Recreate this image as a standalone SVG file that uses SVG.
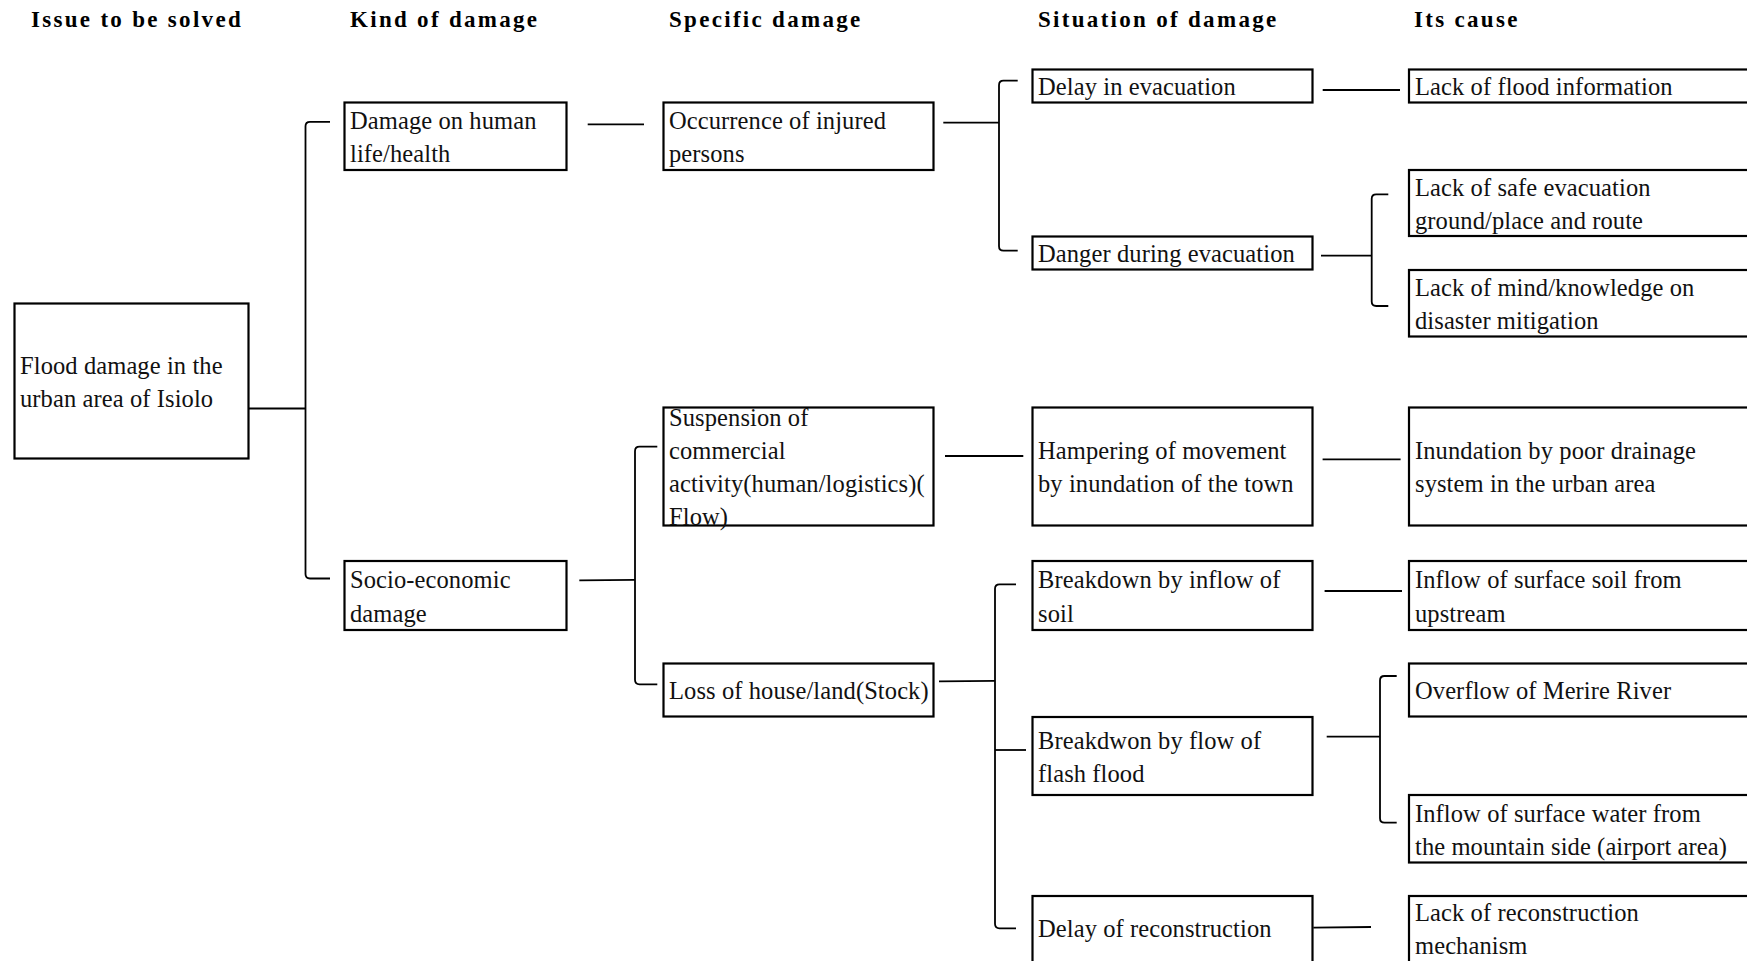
<svg xmlns="http://www.w3.org/2000/svg" width="1747" height="961" viewBox="0 0 1747 961">
<style>
.hd{font-family:"Liberation Serif","Times New Roman",serif;font-weight:bold;font-size:23px;letter-spacing:2.3px;fill:#000}
.t{font-family:"Liberation Serif","Times New Roman",serif;font-size:24.5px;letter-spacing:0.1px;fill:#111}
.b{fill:#fff;stroke:#000;stroke-width:2.2}
.c{fill:none;stroke:#000;stroke-width:1.8;stroke-linecap:butt}
</style>
<rect width="1747" height="961" fill="#fff"/>
<g id="headers">
<text class="hd" x="31" y="27">Issue to be solved</text>
<text class="hd" x="350" y="27">Kind of damage</text>
<text class="hd" x="669" y="27">Specific damage</text>
<text class="hd" x="1038" y="27">Situation of damage</text>
<text class="hd" x="1414" y="27">Its cause</text>
</g>
<g id="connectors">
<path class="c" d="M248.7 408.5 H305.5"/>
<path class="c" d="M330 121.8 H310 Q305.5 121.8 305.5 126.3 V574 Q305.5 578.5 310 578.5 H330"/>
<path class="c" d="M587.7 124.3 H644"/>
<path class="c" d="M943.3 122.7 H999"/>
<path class="c" d="M1017.7 80.7 H1003.5 Q999 80.7 999 85.2 V246.2 Q999 250.7 1003.5 250.7 H1017.7"/>
<path class="c" d="M1322.7 90 H1400"/>
<path class="c" d="M1321 255.7 H1371.7"/>
<path class="c" d="M1388.3 194.3 H1376.2 Q1371.7 194.3 1371.7 198.8 V301.5 Q1371.7 306 1376.2 306 H1388.3"/>
<path class="c" d="M579.3 580.3 L635 579.8"/>
<path class="c" d="M657.3 446.7 H639.5 Q635 446.7 635 451.2 V679.8 Q635 684.3 639.5 684.3 H657.3"/>
<path class="c" d="M945 456 H1023.3"/>
<path class="c" d="M1322.6 459.3 H1400.6"/>
<path class="c" d="M939 681.3 L995 680.8"/>
<path class="c" d="M1016 584.3 H999.5 Q995 584.3 995 588.8 V923.8 Q995 928.3 999.5 928.3 H1016"/>
<path class="c" d="M995 750 H1026"/>
<path class="c" d="M1324.6 591 H1402"/>
<path class="c" d="M1326.7 736.7 H1380"/>
<path class="c" d="M1396.7 676 H1384.5 Q1380 676 1380 680.5 V818.2 Q1380 822.7 1384.5 822.7 H1396.7"/>
<path class="c" d="M1313.3 927.6 L1371 927"/>
</g>
<g id="root">
<rect class="b" x="14.5" y="303.5" width="234" height="155"/>
<text class="t" x="20" y="373.7">Flood damage in the</text>
<text class="t" x="20" y="407">urban area of Isiolo</text>
</g>
<g id="kind1">
<rect class="b" x="344.5" y="102.5" width="222" height="67.5"/>
<text class="t" x="350" y="129">Damage on human</text>
<text class="t" x="350" y="162.3">life/health</text>
</g>
<g id="kind2">
<rect class="b" x="344.5" y="561" width="222" height="69"/>
<text class="t" x="350" y="588.2">Socio-economic</text>
<text class="t" x="350" y="621.5">damage</text>
</g>
<g id="spec1">
<rect class="b" x="663.5" y="102.5" width="270" height="67.5"/>
<text class="t" x="669" y="129">Occurrence of injured</text>
<text class="t" x="669" y="162.3">persons</text>
</g>
<g id="spec2">
<rect class="b" x="663.5" y="407.5" width="270" height="118"/>
<text class="t" x="669" y="425.5">Suspension of</text>
<text class="t" x="669" y="458.8">commercial</text>
<text class="t" x="669" y="492.1">activity(human/logistics)(</text>
<text class="t" x="669" y="525.4">Flow)</text>
</g>
<g id="spec3">
<rect class="b" x="663.5" y="663.5" width="270" height="53"/>
<text class="t" x="669" y="699.4">Loss of house/land(Stock)</text>
</g>
<g id="sit1">
<rect class="b" x="1032.5" y="69.5" width="280" height="33"/>
<text class="t" x="1038" y="95.4">Delay in evacuation</text>
</g>
<g id="sit2">
<rect class="b" x="1032.5" y="236.5" width="280" height="33"/>
<text class="t" x="1038" y="262.4">Danger during evacuation</text>
</g>
<g id="sit3">
<rect class="b" x="1032.5" y="407.5" width="280" height="118"/>
<text class="t" x="1038" y="458.5">Hampering of movement</text>
<text class="t" x="1038" y="491.8">by inundation of the town</text>
</g>
<g id="sit4">
<rect class="b" x="1032.5" y="561" width="280" height="69"/>
<text class="t" x="1038" y="588.2">Breakdown by inflow of</text>
<text class="t" x="1038" y="621.5">soil</text>
</g>
<g id="sit5">
<rect class="b" x="1032.5" y="717" width="280" height="78"/>
<text class="t" x="1038" y="748.7">Breakdwon by flow of</text>
<text class="t" x="1038" y="782">flash flood</text>
</g>
<g id="sit6">
<rect class="b" x="1032.5" y="896" width="280" height="70"/>
<text class="t" x="1038" y="937">Delay of reconstruction</text>
</g>
<g id="cause1">
<rect class="b" x="1409" y="69.5" width="350" height="33"/>
<text class="t" x="1415" y="95.4">Lack of flood information</text>
</g>
<g id="cause2">
<rect class="b" x="1409" y="170" width="350" height="66"/>
<text class="t" x="1415" y="195.7">Lack of safe evacuation</text>
<text class="t" x="1415" y="229">ground/place and route</text>
</g>
<g id="cause3">
<rect class="b" x="1409" y="270" width="350" height="66.5"/>
<text class="t" x="1415" y="296">Lack of mind/knowledge on</text>
<text class="t" x="1415" y="329.3">disaster mitigation</text>
</g>
<g id="cause4">
<rect class="b" x="1409" y="407.5" width="350" height="118"/>
<text class="t" x="1415" y="458.5">Inundation by poor drainage</text>
<text class="t" x="1415" y="491.8">system in the urban area</text>
</g>
<g id="cause5">
<rect class="b" x="1409" y="561" width="350" height="69"/>
<text class="t" x="1415" y="588.2">Inflow of surface soil from</text>
<text class="t" x="1415" y="621.5">upstream</text>
</g>
<g id="cause6">
<rect class="b" x="1409" y="663.5" width="350" height="53"/>
<text class="t" x="1415" y="699.4">Overflow of Merire River</text>
</g>
<g id="cause7">
<rect class="b" x="1409" y="795" width="350" height="67.5"/>
<text class="t" x="1415" y="821.5">Inflow of surface water from</text>
<text class="t" x="1415" y="854.8">the mountain side (airport area)</text>
</g>
<g id="cause8">
<rect class="b" x="1409" y="896" width="350" height="70"/>
<text class="t" x="1415" y="920.5">Lack of reconstruction</text>
<text class="t" x="1415" y="953.8">mechanism</text>
</g>
</svg>
